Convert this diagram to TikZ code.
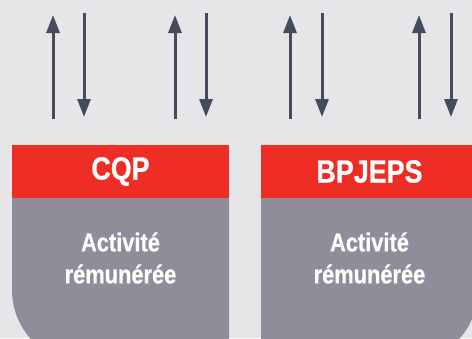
\documentclass[tikz,border=0pt]{standalone}
\usepackage{fontspec}
\setmainfont{Liberation Sans}[FakeStretch=0.84, BoldFeatures={FakeBold=0.6}]
\usetikzlibrary{arrows.meta}
\definecolor{fond}{HTML}{E6E6E8}
\definecolor{rouge}{HTML}{EE2E24}
\definecolor{grisbloc}{HTML}{8F8D9A}
\definecolor{ardoise}{HTML}{454B5C}
\tikzset{
  fleche/.style={draw=ardoise, line width=3pt, -{Triangle[width=13pt,length=18pt]}},
  entete/.style={fill=rouge, text=white, minimum width=217pt, minimum height=53pt,
    inner sep=0pt, font=\bfseries\fontsize{32}{34}\selectfont},
  corpstexte/.style={text=white, align=center, inner sep=0pt,
    font=\bfseries\fontsize{26}{32}\selectfont}
}
\begin{document}
\begin{tikzpicture}[x=1pt,y=-1pt]
      \fill[fond] (0,0) rectangle (472,338);
      \useasboundingbox (0,0) rectangle (472,338);
      % les deux blocs
      \fill[grisbloc] (229,198) -- (12,198) -- (12,290) arc(180:90:73) -- (229,363) -- cycle;
      \fill[grisbloc] (261,198) -- (478,198) -- (478,290) arc(0:90:73) -- (261,363) -- cycle;
      \node[entete] (cqp) at (120.5,171.5) {CQP};
      \node[entete] (bpjeps) at (369.5,171.5) {BPJEPS};
      \node[corpstexte] (cqpact) at (120.5,258) {Activité\\rémunérée};
      \node[corpstexte] (bpjepsact) at (369.5,258) {Activité\\rémunérée};
      % fleches aller-retour
      \foreach \xh/\xb in {53/84, 175/206, 290/322, 419/451} {
        \coordinate (bas\xh) at (\xh,119);
        \coordinate (haut\xh) at (\xh,15);
        \coordinate (hautb\xb) at (\xb,13);
        \coordinate (basb\xb) at (\xb,117);
        \draw[fleche] (bas\xh) -- (haut\xh);
        \draw[fleche] (hautb\xb) -- (basb\xb);
      }
    \end{tikzpicture}
\end{document}
